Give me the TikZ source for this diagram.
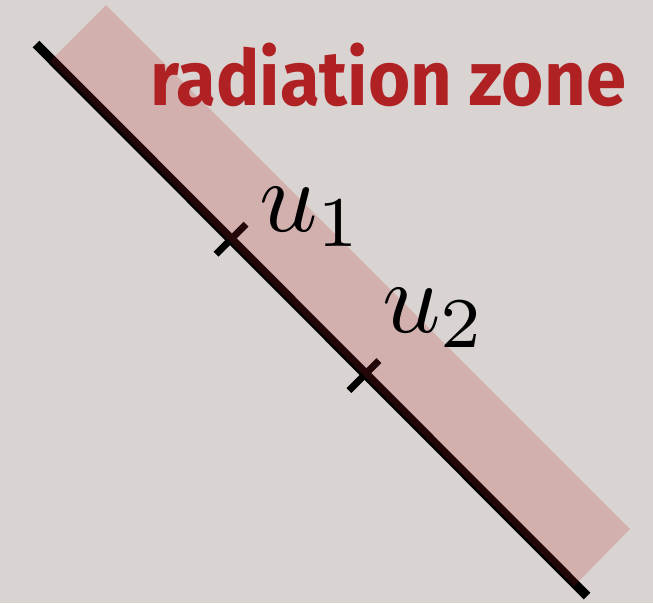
\documentclass[tikz,border=0pt]{standalone}
\usepackage{graphicx}
\usepackage{fontspec}
\usetikzlibrary{calc}
\newfontfamily\labelfont[FakeStretch=0.94]{Fira Sans}
\definecolor{bgc}{RGB}{217,212,209}
\definecolor{zonered}{RGB}{178,34,36}
\definecolor{textred}{RGB}{176,33,36}
\tikzset{
  mainline/.style={line width=9.5pt, black},
  tickmark/.style={line width=7pt, black},
  band/.style={fill=zonered, fill opacity=0.2, draw=none},
  ulabel/.style={anchor=base west, inner sep=0pt},
  zonelabel/.style={anchor=base west, inner sep=0pt, text=textred, font=\labelfont\bfseries\fontsize{77}{77}\selectfont}
}
\begin{document}
\begin{tikzpicture}[x=1pt,y=-1pt]
\fill[bgc] (0,0) rectangle (653,603);
\useasboundingbox (0,0) rectangle (653,603);
\coordinate (a) at (36,44);
\coordinate (b) at (587,596);
\coordinate (t1) at (231,239.2);
\coordinate (t2) at (364,375.5);
\draw[mainline] (a) -- (b);
\draw[tickmark] ($(t1)+(-15,15)$) -- ($(t1)+(15,-15)$);
\draw[tickmark] ($(t2)+(-15,15)$) -- ($(t2)+(15,-15)$);
\fill[band] (50,61) -- (106,5) -- (630,529) -- (574,586) -- cycle;
\node[zonelabel] (zone) at (150,105) {radiation zone};
\node[ulabel] (u1) at (259,231) {\scalebox{10.2}{$u_1$}};
\node[ulabel] (u2) at (382,332) {\scalebox{10.2}{$u_2$}};
\end{tikzpicture}
\end{document}
